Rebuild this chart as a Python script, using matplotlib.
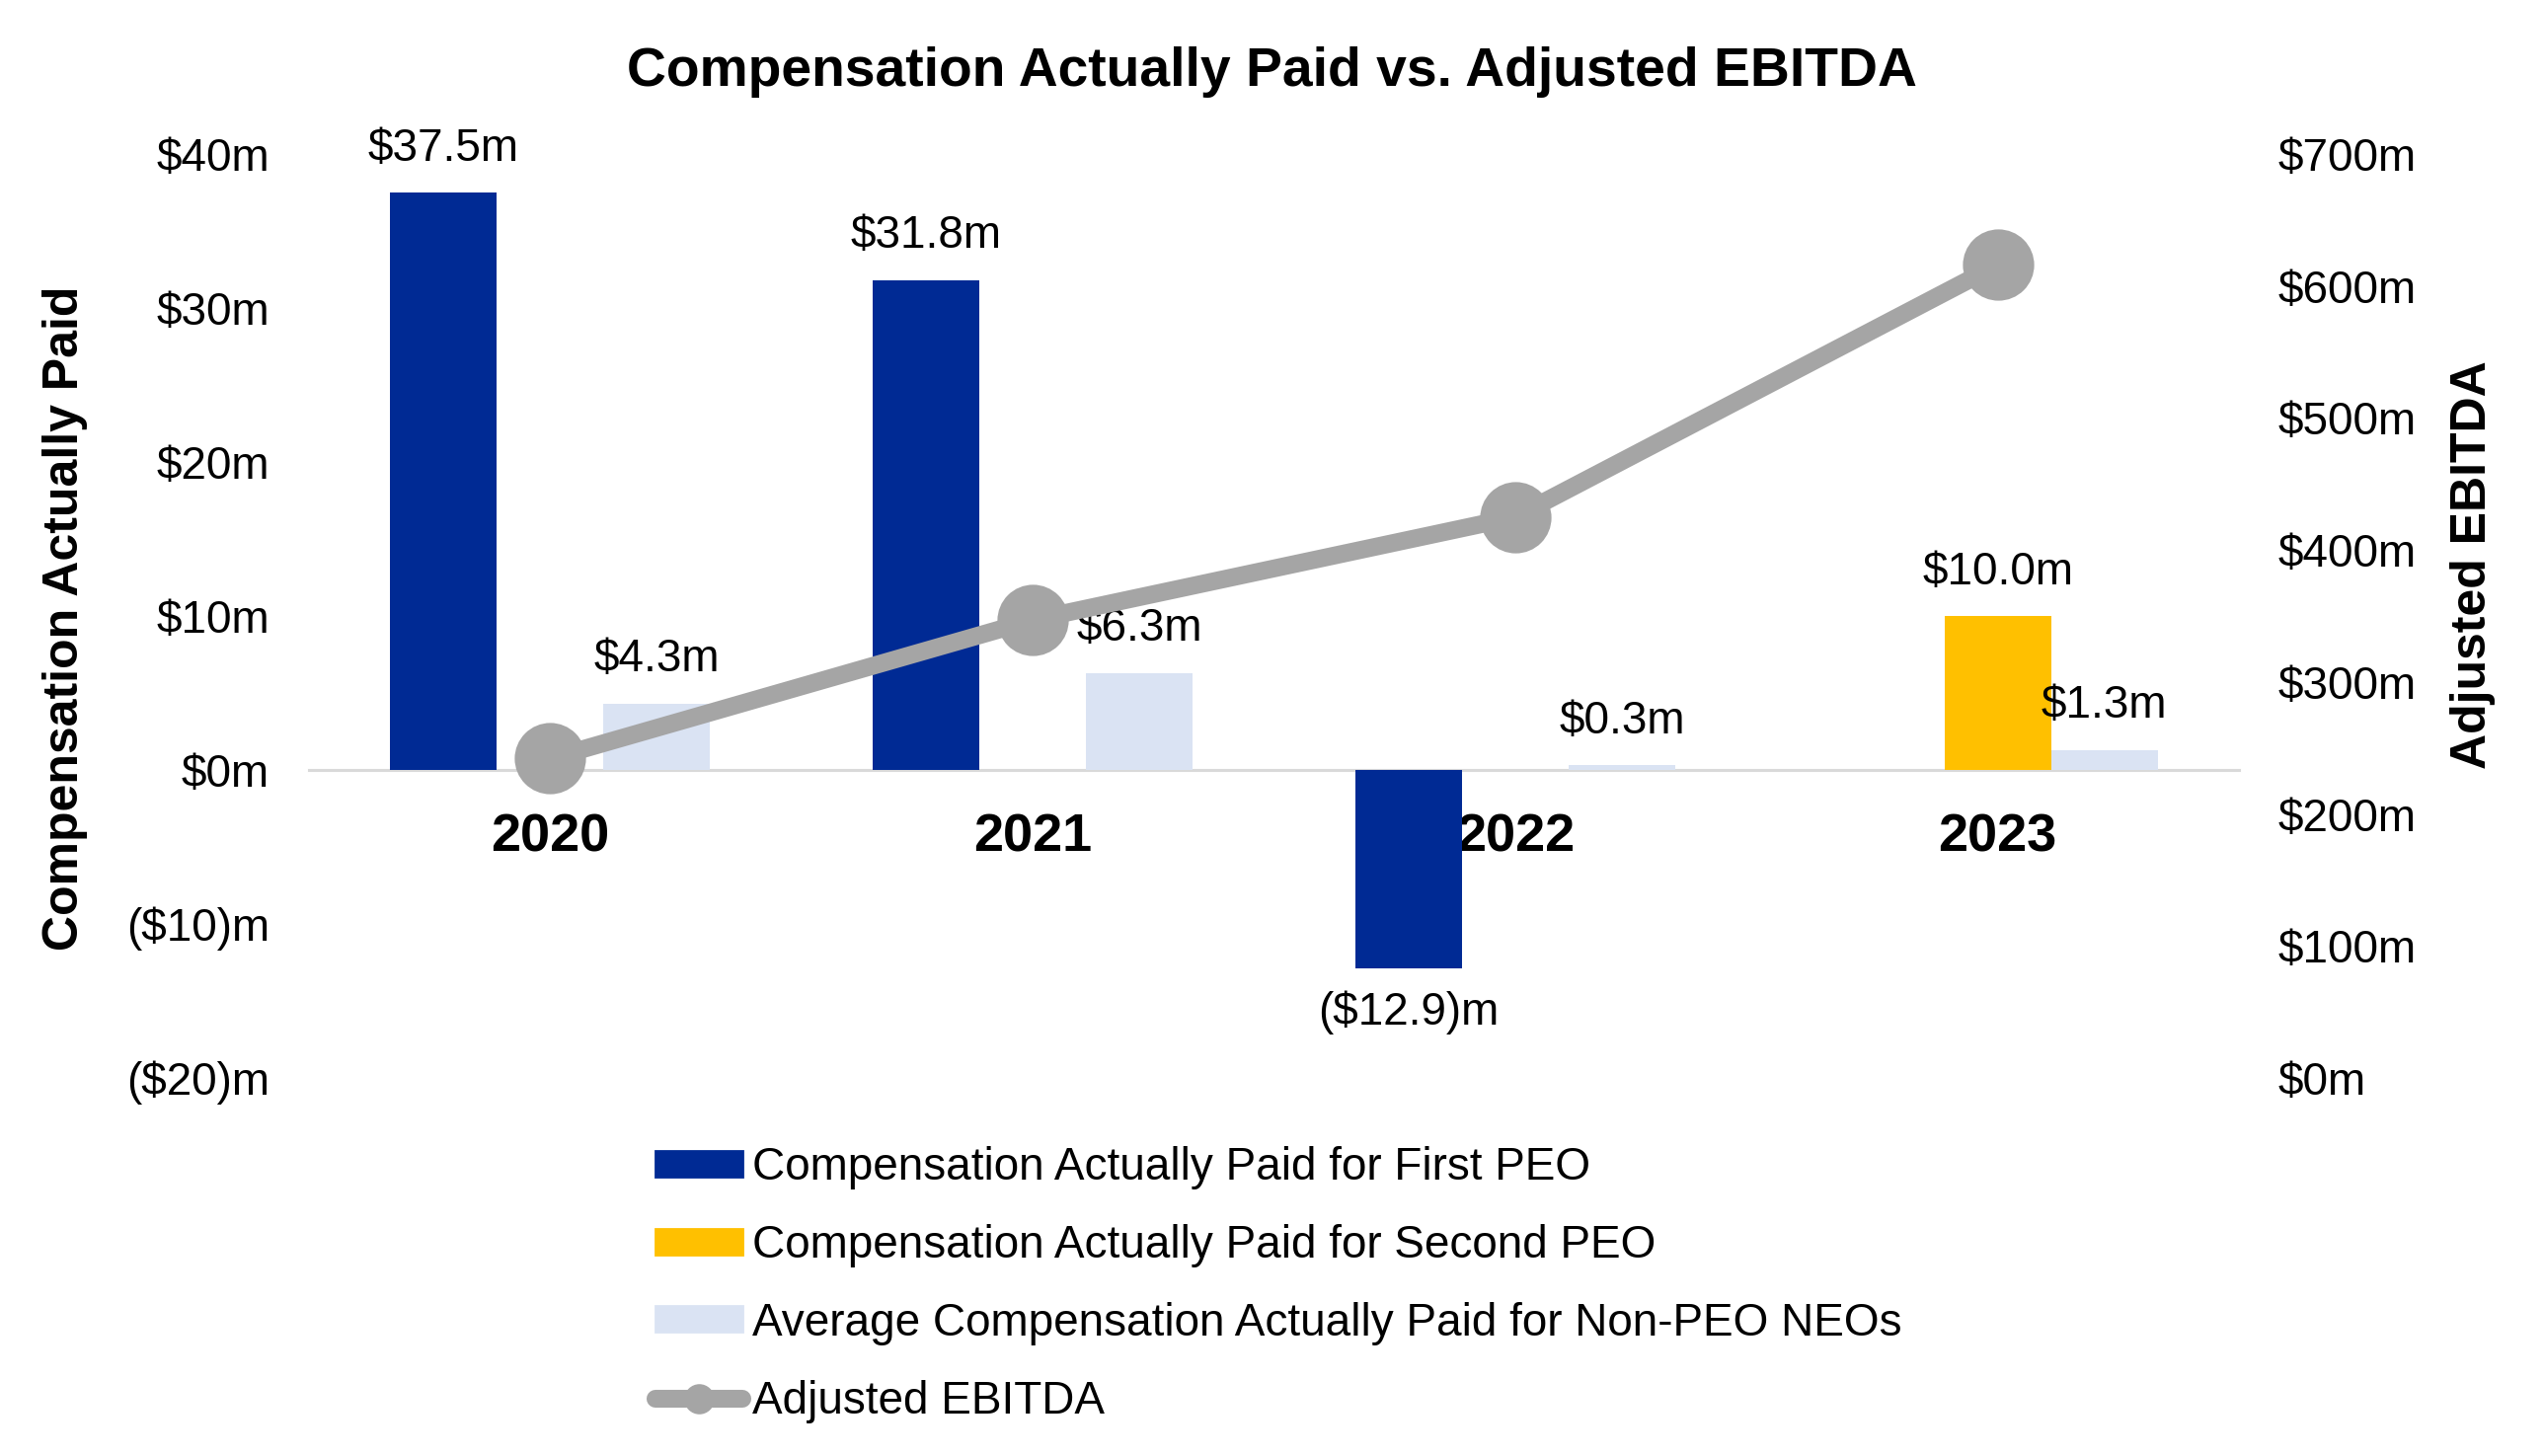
import numpy as np
import matplotlib.pyplot as plt
from matplotlib.lines import Line2D
from matplotlib.patches import Patch

plt.rcParams['font.family'] = ['Liberation Sans', 'DejaVu Sans']

# data ($m)
years = ['2020', '2021', '2022', '2023']
first_peo = [37.5, 31.8, -12.9, np.nan]
second_peo = [np.nan, np.nan, np.nan, 10.0]
non_peo = [4.3, 6.3, 0.3, 1.3]
ebitda = [242, 347, 425, 616]

c_first = '#002A94'
c_second = '#FFC000'
c_nonpeo = '#DAE3F3'
c_line = '#A5A5A5'

def money(v):
    if v < 0:
        return '(\\$%.1f)m' % (-v)
    return '\\$%.1fm' % v

fig = plt.figure(figsize=(12.88, 7.375), dpi=200)
ax = fig.add_axes((313/2576, 1 - 1092/1475, 1955/2576, 936/1475))
ax2 = ax.twinx()

x = np.arange(len(years))
w = 0.221
series = [(first_peo, -w, c_first), (second_peo, 0, c_second), (non_peo, w, c_nonpeo)]
for vals, off, col in series:
    ax.bar(x + off, vals, w, color=col, zorder=2)
    for xi, v in zip(x, vals):
        if np.isnan(v):
            continue
        dy = 16 if v >= 0 else -16
        ax.annotate(money(v), (xi + off, v), xytext=(0, dy), textcoords='offset points',
                    ha='center', va='center', fontsize=16.5, zorder=5)

ax.set_xlim(-0.5, 3.5)
ax.set_ylim(-20, 40)
ax.set_yticks(range(-20, 41, 10))
ax.set_yticklabels(['(\\$%d)m' % -t if t < 0 else '\\$%dm' % t for t in range(-20, 41, 10)])
ax.tick_params(axis='y', length=0, pad=14.4, labelsize=16.5)
for s in ['left', 'right', 'top']:
    ax.spines[s].set_visible(False)
ax.spines['bottom'].set_position(('data', 0))
ax.spines['bottom'].set_color('#D9D9D9')
ax.spines['bottom'].set_linewidth(1.1)
ax.spines['bottom'].set_zorder(1)

ax2.plot(x, ebitda, color=c_line, lw=6.5, marker='o', ms=25,
         solid_capstyle='round', solid_joinstyle='round', zorder=3)
ax2.set_ylim(0, 700)
ax2.set_yticks(range(0, 701, 100))
ax2.set_yticklabels(['\\$%dm' % t for t in range(0, 701, 100)])
ax2.tick_params(axis='y', length=0, pad=14.4, labelsize=16.5)
for s in ax2.spines.values():
    s.set_visible(False)

# category labels (set after twinx plotting so they stick)
ax.set_xticks(x)
ax.set_xticklabels(years)
ax.tick_params(axis='x', length=0, pad=15.6, labelsize=19.5)
plt.setp(ax.get_xticklabels(), fontweight='bold')

fig.text(0.5, 1 - 73/1475, 'Compensation Actually Paid vs. Adjusted EBITDA',
         ha='center', va='center', fontsize=19.9, fontweight='bold')
fig.text(66/2576, 1 - 626/1475, 'Compensation Actually Paid', rotation=90,
         ha='center', va='center', fontsize=18, fontweight='bold')
fig.text(2505/2576, 1 - 572/1475, 'Adjusted EBITDA', rotation=90,
         ha='center', va='center', fontsize=18, fontweight='bold')

handles = [Patch(color=c_first), Patch(color=c_second), Patch(color=c_nonpeo),
           Line2D([], [], color=c_line, lw=6.5, marker='o', ms=10, solid_capstyle='round')]
labels = ['Compensation Actually Paid for First PEO',
          'Compensation Actually Paid for Second PEO',
          'Average Compensation Actually Paid for Non-PEO NEOs',
          'Adjusted EBITDA']
fig.legend(handles, labels, loc='upper left', bbox_to_anchor=(664/2576, 1 - 1161/1475),
           frameon=False, fontsize=16.5, handlelength=1.92, handleheight=0.5,
           handletextpad=0.22, labelspacing=0.76, borderpad=0, borderaxespad=0)

fig.savefig('out.png', dpi=200)
